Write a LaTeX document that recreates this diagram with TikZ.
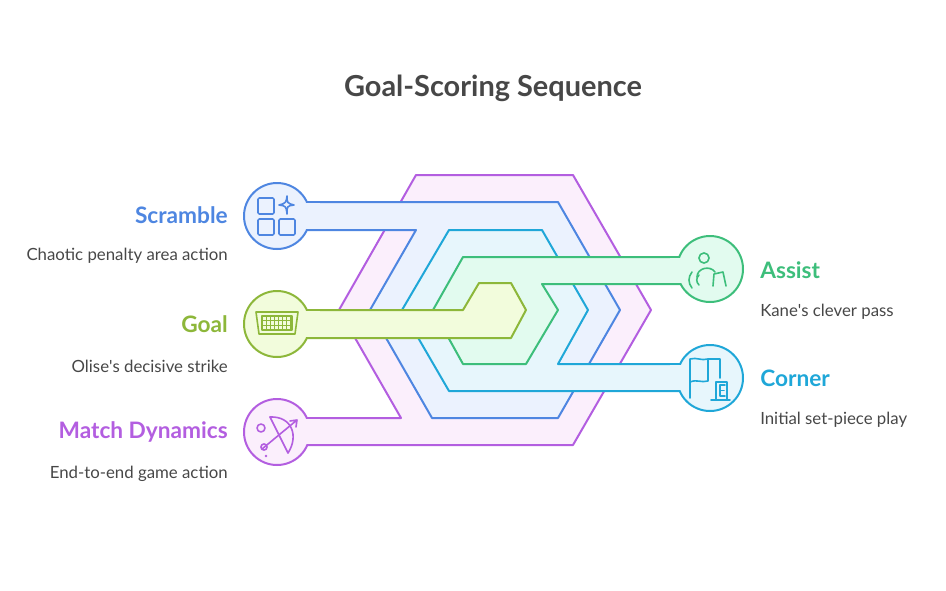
\documentclass[tikz,border=0pt]{standalone}
\usepackage{fontspec}
\setmainfont{Lato}
\begin{document}
\begin{tikzpicture}[x=0.75pt,y=-0.75pt,line join=round,
  band/.style={line width=1.5pt},
  ttl/.style={font=\fontsize{21.7}{26}\selectfont\bfseries,text=black!72},
  hd/.style={font=\fontsize{17}{20}\selectfont\bfseries,inner sep=0pt},
  ds/.style={font=\fontsize{12.6}{15}\selectfont,text=black!72,inner sep=0pt},
  ic/.style={line width=1.2pt,line cap=round}]
\definecolor{pS}{HTML}{B35EE0}\definecolor{pF}{HTML}{FBEFFC}
\definecolor{bS}{HTML}{4E86E1}\definecolor{bF}{HTML}{EBF2FE}
\definecolor{cS}{HTML}{1FA7D8}\definecolor{cF}{HTML}{E7F6FC}
\definecolor{gS}{HTML}{3DBE7B}\definecolor{gF}{HTML}{E2FBEF}
\definecolor{yS}{HTML}{8DB73A}\definecolor{yF}{HTML}{F2FCDC}
\useasboundingbox (0,0) rectangle (946,590);
\node[ttl] (title) at (493,88) {Goal-Scoring Sequence};
% purple
\draw[band,pS,fill=pF] (277,418) -- (401,418) -- (339,310) -- (416,175) -- (573,175) -- (651,310) -- (573,445) -- (277,445) -- cycle;
\filldraw[band,draw=pS,fill=pF] (277,432) circle[radius=24.75pt];
\fill[pF] (300,419) rectangle (320,444);
% blue
\draw[band,bS,fill=bF] (277,202) -- (558,202) -- (620,310) -- (558,418) -- (432,418) -- (370,310) -- (416,230) -- (277,230) -- cycle;
\filldraw[band,draw=bS,fill=bF] (277,216) circle[radius=24.75pt];
\fill[bF] (300,203) rectangle (320,229);
% cyan
\draw[band,cS,fill=cF] (710,364) -- (558,364) -- (588,310) -- (542,230) -- (449,230) -- (402,310) -- (449,391) -- (710,391) -- cycle;
\filldraw[band,draw=cS,fill=cF] (710,378) circle[radius=24.75pt];
\fill[cF] (670,365) rectangle (688,390);
% green
\draw[band,gS,fill=gF] (710,257) -- (463,257) -- (433,310) -- (463,364) -- (526,364) -- (558,310) -- (542,284) -- (710,284) -- cycle;
\filldraw[band,draw=gS,fill=gF] (710,269) circle[radius=24.75pt];
\fill[gF] (670,258) rectangle (688,283);
% yellow
\draw[band,yS,fill=yF] (277,310) -- (463,310) -- (479,283) -- (511,283) -- (526,310) -- (511,338) -- (277,338) -- cycle;
\filldraw[band,draw=yS,fill=yF] (277,324) circle[radius=24.75pt];
\fill[yF] (300,311) rectangle (320,337);
% icons
\begin{scope}[bS,ic]
\draw[rounded corners=1pt] (258,198) rectangle (274,214) (258,219) rectangle (274,235) (279,219) rectangle (295,235);
\draw (287,196) .. controls (287,203) .. (294,205) .. controls (287,206) .. (287,214) .. controls (286,206) .. (279,205) .. controls (286,203) .. cycle;
\end{scope}
\begin{scope}[yS,ic]
\draw (256,312) -- (298,312) -- (295,334) -- (259,334) -- cycle;
\draw (262,316) rectangle (292,330);
\foreach \x in {266,270,...,290} \draw[line width=0.7pt] (\x,316) -- (\x,330);
\foreach \y in {320,325} \draw[line width=0.7pt] (262,\y) -- (292,\y);
\end{scope}
\begin{scope}[pS,ic]
\draw (270,417) .. controls (292,416) and (299,436) .. (288,453);
\draw (270,417) -- (288,453);
\draw (262,449) -- (297,420) (297,420) -- (290,421) (297,420) -- (296,427);
\draw (261,428) circle[radius=3pt] (264,447) circle[radius=2.3pt];
\fill (266,456) circle[radius=1.1pt];
\end{scope}
\begin{scope}[gS,ic]
\draw (704,258) circle[radius=3.8pt];
\draw (697,277) .. controls (697,268) and (710,265) .. (715,272);
\draw (713,286) -- (714,274) -- (723,272) -- (726,286);
\draw (692,288) .. controls (688,283) and (688,277) .. (692,272);
\draw (699,285) .. controls (696,282) and (696,278) .. (699,275);
\end{scope}
\begin{scope}[cS,ic]
\draw (690,398) -- (690,359) .. controls (697,357) and (701,361) .. (708,359) -- (708,381) .. controls (701,383) and (697,379) .. (690,382);
\draw (708,359) -- (720,359) -- (720,378);
\draw (711,400) -- (730,400) (716,382) rectangle (727,400);
\draw (725,385) -- (720,385) -- (720,396) -- (725,396) (720,390.5) -- (724,390.5);
\end{scope}
% labels
\node[hd,text=bS,anchor=east] (l1) at (228,215) {Scramble};
\node[ds,anchor=east] (d1) at (228,256) {Chaotic penalty area action};
\node[hd,text=yS,anchor=east] (l2) at (228,324) {Goal};
\node[ds,anchor=east] (d2) at (228,366) {Olise\textquotesingle s decisive strike};
\node[hd,text=pS,anchor=east] (l3) at (228,432) {Match Dynamics};
\node[ds,anchor=east] (d3) at (228,474) {End-to-end game action};
\node[hd,text=gS,anchor=west] (l4) at (760,270) {Assist};
\node[ds,anchor=west] (d4) at (760,312) {Kane\textquotesingle s clever pass};
\node[hd,text=cS,anchor=west] (l5) at (760,378) {Corner};
\node[ds,anchor=west] (d5) at (760,420) {Initial set-piece play};
\end{tikzpicture}
\end{document}
